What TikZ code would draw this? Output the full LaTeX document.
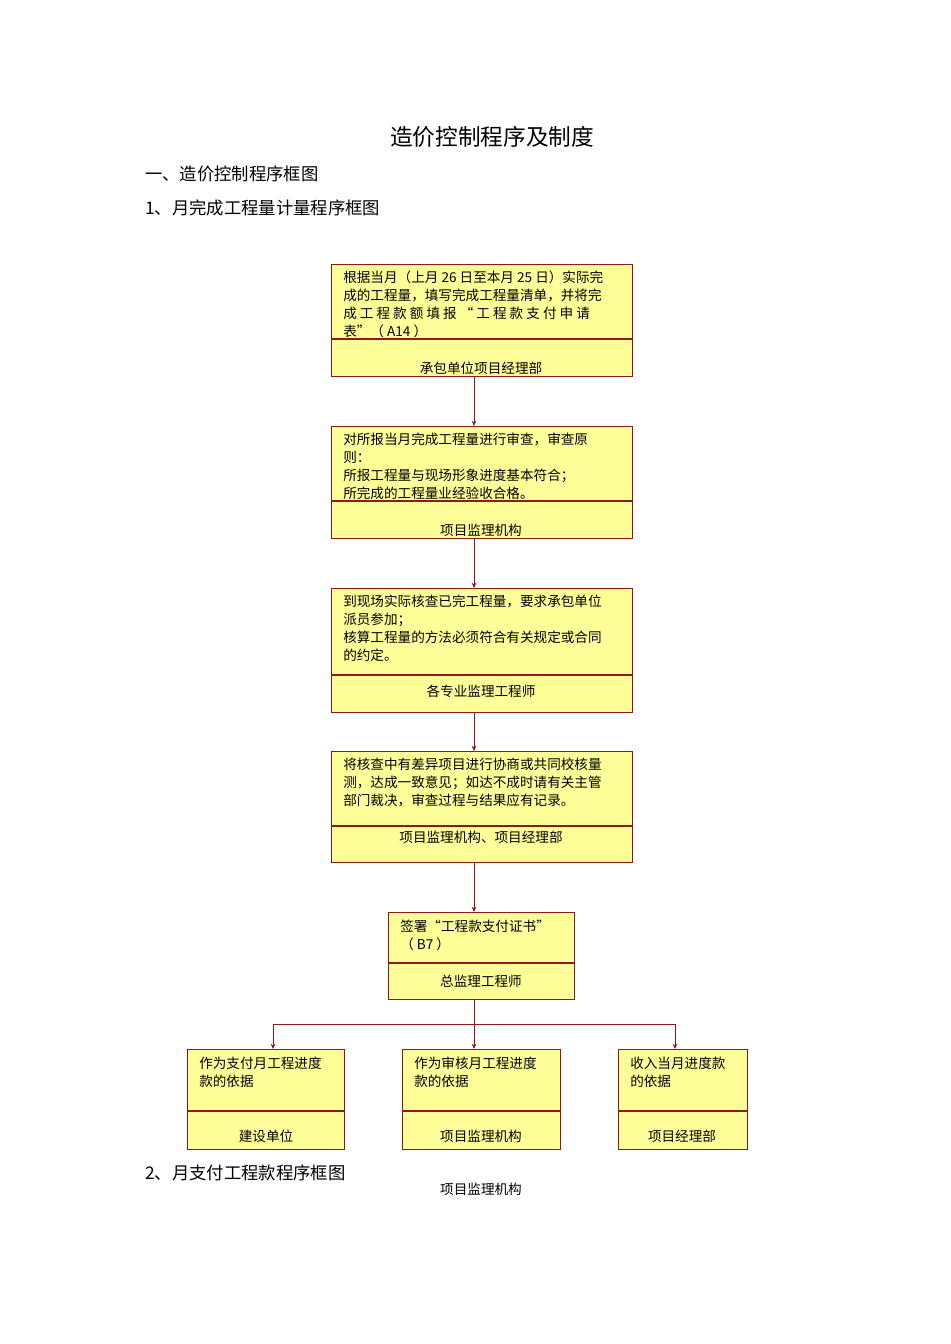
\documentclass[tikz,border=0pt]{standalone}
\usepackage{fontspec}
\setmainfont{Noto Sans CJK SC}
\usetikzlibrary{arrows.meta}
\definecolor{ln}{HTML}{8B1A1A}
\definecolor{bx}{HTML}{FFFF99}
\tikzset{
 box/.style={draw=ln, fill=bx, line width=0.9pt, rectangle, inner sep=0pt},
 txt/.style={anchor=north west, align=left, inner sep=0pt, font=\fontsize{10.2pt}{13.4pt}\selectfont},
 lab/.style={inner sep=0pt, font=\fontsize{10.2pt}{13pt}\selectfont},
 conn/.style={draw=ln, line width=0.7pt, -{Stealth[length=4pt,width=3.5pt]}},
 head/.style={anchor=west, inner sep=0pt, font=\fontsize{13pt}{15pt}\selectfont}
}
\newcommand{\bxx}[6]{% name, x1,y1,x2,y2,ydiv
 \node[box, minimum width={(#4-#2)*0.75pt}, minimum height={(#5-#3)*0.75pt}, anchor=north west] (#1) at (#2,#3) {};
 \draw[ln, line width=0.9pt] (#2,#6) -- (#4,#6);
}
\begin{document}
\begin{tikzpicture}[x=0.75pt,y=-0.75pt]
\useasboundingbox (0,0) rectangle (950,1344);
\node[inner sep=0pt, font=\fontsize{17pt}{19pt}\selectfont] (title) at (492,137) {造价控制程序及制度};
\node[head] (h1) at (145,174) {一、造价控制程序框图};
\node[head] (h2) at (145,208) {1、月完成工程量计量程序框图};
\node[head] (h3) at (145,1173) {2、月支付工程款程序框图};
\node[lab] (foot) at (481,1189) {项目监理机构};

\bxx{b1}{331}{264}{632}{376}{339}
\node[txt] (t1) at (343,271) {根据当月（上月 26 日至本月 25 日）实际完\\成的工程量，填写完成工程量清单，并将完\\成 工 程 款 额 填 报 “ 工 程 款 支 付 申 请\\表”（ A14 ）};
\node[lab] (l1) at (481,368) {承包单位项目经理部};

\bxx{b2}{331}{426}{632}{538}{501}
\node[txt] (t2) at (343,433) {对所报当月完成工程量进行审查，审查原\\则：\\所报工程量与现场形象进度基本符合；\\所完成的工程量业经验收合格。};
\node[lab] (l2) at (481,530) {项目监理机构};

\bxx{b3}{331}{588}{632}{712}{675}
\node[txt] (t3) at (343,595) {到现场实际核查已完工程量，要求承包单位\\派员参加；\\核算工程量的方法必须符合有关规定或合同\\的约定。};
\node[lab] (l3) at (481,691) {各专业监理工程师};

\bxx{b4}{331}{751}{632}{862}{826}
\node[txt] (t4) at (343,758) {将核查中有差异项目进行协商或共同校核量\\测，达成一致意见；如达不成时请有关主管\\部门裁决，审查过程与结果应有记录。};
\node[lab] (l4) at (481,837) {项目监理机构、项目经理部};

\bxx{b5}{388}{912}{574}{999}{963}
\node[txt] (t5) at (400,920) {签署“工程款支付证书”\\（ B7 ）};
\node[lab] (l5) at (481,981) {总监理工程师};

\bxx{c1}{187}{1049}{344}{1149}{1111}
\node[txt] (s1) at (199,1057) {作为支付月工程进度\\款的依据};
\node[lab] (m1) at (266,1136) {建设单位};
\bxx{c2}{402}{1049}{560}{1149}{1111}
\node[txt] (s2) at (414,1057) {作为审核月工程进度\\款的依据};
\node[lab] (m2) at (481,1136) {项目监理机构};
\bxx{c3}{618}{1049}{747}{1149}{1111}
\node[txt] (s3) at (630,1057) {收入当月进度款\\的依据};
\node[lab] (m3) at (682,1136) {项目经理部};

\draw[conn] (474,376) -- (474,426);
\draw[conn] (474,538) -- (474,588);
\draw[conn] (474,712) -- (474,751);
\draw[conn] (474,862) -- (474,912);
\coordinate (bus) at (474,1024);
\draw[draw=ln, line width=0.7pt] (474,999) -- (bus);
\draw[conn] (bus) -- (474,1049);
\draw[conn] (bus) -| (273,1049);
\draw[conn] (bus) -| (675,1049);
\end{tikzpicture}
\end{document}
